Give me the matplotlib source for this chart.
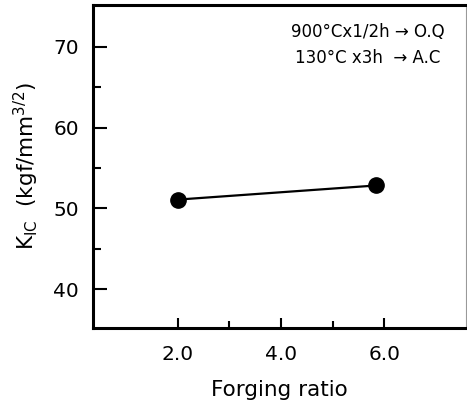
import matplotlib
matplotlib.use("Agg")
import matplotlib.pyplot as plt
from matplotlib.ticker import FixedLocator

forging_ratio = [2.0, 5.84]
kic = [51.1, 52.85]
x_major = [2.0, 4.0, 6.0]
x_minor = [3.0, 5.0]
x_labels = ["2.0", "4.0", "6.0"]
y_major = [40, 50, 60, 70]
y_minor = [45, 55, 65]

plt.rcParams['font.family'] = ['DejaVu Sans']

fig = plt.figure(figsize=(4.67, 4.01), dpi=100)
ax = fig.add_axes([93/467, 73/401, 373/467, 323/401])

ax.plot(forging_ratio, kic, color='black', lw=1.6, marker='o', ms=11,
        markerfacecolor='black', markeredgecolor='black')

ax.set_xlim(0.36, 7.58)
ax.set_ylim(35.2, 75.2)
ax.xaxis.set_major_locator(FixedLocator(x_major))
ax.xaxis.set_minor_locator(FixedLocator(x_minor))
ax.set_xticklabels(x_labels)
ax.yaxis.set_major_locator(FixedLocator(y_major))
ax.yaxis.set_minor_locator(FixedLocator(y_minor))

ax.tick_params(axis='both', which='both', direction='in', colors='black',
               labelsize=14.5, width=1.5)
ax.tick_params(axis='y', which='major', length=10, pad=10)
ax.tick_params(axis='y', which='minor', length=6)
ax.tick_params(axis='x', which='major', length=7, pad=12)
ax.tick_params(axis='x', which='minor', length=5)

for s in ['left', 'bottom', 'top']:
    ax.spines[s].set_linewidth(2.2)
ax.spines['right'].set_linewidth(0.8)
ax.spines['right'].set_color('#999999')

ax.set_xlabel('Forging ratio', fontsize=15.5, labelpad=12)
ax.set_ylabel(r'K$\mathregular{_{IC}}$  (kgf/mm$\mathregular{^{3/2}}$)', fontsize=15.5, labelpad=9)

ax.text(0.943, 0.915, '900°Cx1/2h → O.Q', transform=ax.transAxes,
        ha='right', va='center', fontsize=12, fontweight='medium')
ax.text(0.93, 0.835, '130°C x3h  → A.C', transform=ax.transAxes,
        ha='right', va='center', fontsize=12, fontweight='medium')

fig.savefig('out.png', dpi=100)
